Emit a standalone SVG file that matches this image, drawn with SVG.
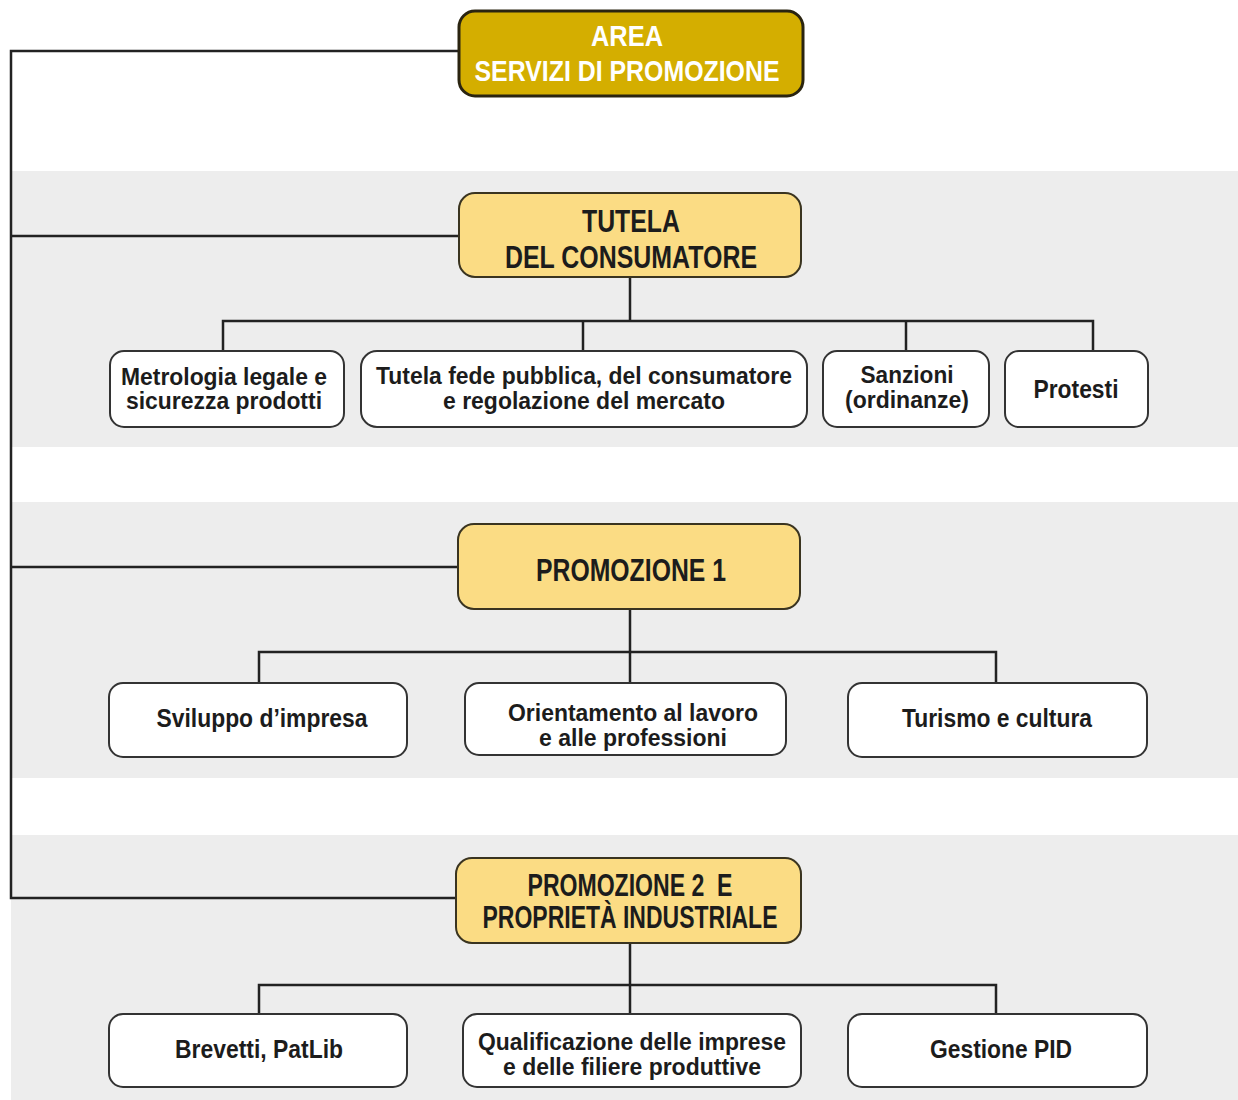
<svg xmlns="http://www.w3.org/2000/svg" width="1238" height="1100" viewBox="0 0 1238 1100">
<style>
.band{fill:#ededed}
.main{fill:#d4ae00;stroke:#2a2410;stroke-width:3}
.head{fill:#fbdc84;stroke:#3a3420;stroke-width:2}
.child{fill:#ffffff;stroke:#333333;stroke-width:2}
.ln{fill:none;stroke:#222222;stroke-width:2.5}
text{font-family:"Liberation Sans Narrow","Liberation Sans",Arial,sans-serif;font-weight:bold;text-anchor:middle;fill:#1c1c1c}
.mt{fill:#ffffff;font-size:30px}
.ht{font-size:31px}
.ct{font-size:25px}
.c2{font-size:23px}
</style>
<rect width="1238" height="1100" fill="#ffffff"/>
<rect class="band" x="11" y="171" width="1227" height="276"/>
<rect class="band" x="11" y="502" width="1227" height="276"/>
<rect class="band" x="11" y="835" width="1227" height="265"/>

<g id="connectors">
<polyline class="ln" points="459,51 11,51 11,898 456,898"/>
<line class="ln" x1="11" y1="236" x2="459" y2="236"/>
<line class="ln" x1="11" y1="567" x2="458" y2="567"/>
<line class="ln" x1="630" y1="277" x2="630" y2="321"/>
<polyline class="ln" points="223,351 223,321 1093,321 1093,351"/>
<line class="ln" x1="583" y1="321" x2="583" y2="351"/>
<line class="ln" x1="906" y1="321" x2="906" y2="351"/>
<line class="ln" x1="630" y1="609" x2="630" y2="683"/>
<polyline class="ln" points="259,683 259,652 996,652 996,683"/>
<line class="ln" x1="630" y1="943" x2="630" y2="1014"/>
<polyline class="ln" points="259,1014 259,985 996,985 996,1014"/>
</g>

<g id="area">
<rect class="main" x="459" y="11" width="344" height="85" rx="16"/>
<text class="mt" x="627" y="46" textLength="72" lengthAdjust="spacingAndGlyphs">AREA</text>
<text class="mt" x="627" y="81" textLength="305" lengthAdjust="spacingAndGlyphs">SERVIZI DI PROMOZIONE</text>
</g>

<g id="tutela">
<rect class="head" x="459" y="193" width="342" height="84" rx="16"/>
<text class="ht" x="631" y="232" textLength="98" lengthAdjust="spacingAndGlyphs">TUTELA</text>
<text class="ht" x="631" y="268" textLength="252" lengthAdjust="spacingAndGlyphs">DEL CONSUMATORE</text>
</g>

<g id="metrologia">
<rect class="child" x="110" y="351" width="234" height="76" rx="14"/>
<text class="c2" x="224" y="385" textLength="206" lengthAdjust="spacingAndGlyphs">Metrologia legale e</text>
<text class="c2" x="224" y="409" textLength="196" lengthAdjust="spacingAndGlyphs">sicurezza prodotti</text>
</g>

<g id="tutelafede">
<rect class="child" x="361" y="351" width="446" height="76" rx="16"/>
<text class="c2" x="584" y="384" textLength="416" lengthAdjust="spacingAndGlyphs">Tutela fede pubblica, del consumatore</text>
<text class="c2" x="584" y="409" textLength="282" lengthAdjust="spacingAndGlyphs">e regolazione del mercato</text>
</g>

<g id="sanzioni">
<rect class="child" x="823" y="351" width="166" height="76" rx="14"/>
<text class="c2" x="907" y="383" textLength="93" lengthAdjust="spacingAndGlyphs">Sanzioni</text>
<text class="c2" x="907" y="408" textLength="124" lengthAdjust="spacingAndGlyphs">(ordinanze)</text>
</g>

<g id="protesti">
<rect class="child" x="1005" y="351" width="143" height="76" rx="14"/>
<text class="ct" x="1076" y="398" textLength="85" lengthAdjust="spacingAndGlyphs">Protesti</text>
</g>

<g id="promozione1">
<rect class="head" x="458" y="524" width="342" height="85" rx="16"/>
<text class="ht" x="631" y="581" textLength="190" lengthAdjust="spacingAndGlyphs">PROMOZIONE 1</text>
</g>

<g id="sviluppo">
<rect class="child" x="109" y="683" width="298" height="74" rx="14"/>
<text class="ct" x="262" y="727" textLength="211" lengthAdjust="spacingAndGlyphs">Sviluppo d’impresa</text>
</g>

<g id="orientamento">
<rect class="child" x="465" y="683" width="321" height="72" rx="14"/>
<text class="c2" x="633" y="721" textLength="250" lengthAdjust="spacingAndGlyphs">Orientamento al lavoro</text>
<text class="c2" x="633" y="746" textLength="188" lengthAdjust="spacingAndGlyphs">e alle professioni</text>
</g>

<g id="turismo">
<rect class="child" x="848" y="683" width="299" height="74" rx="14"/>
<text class="ct" x="997" y="727" textLength="190" lengthAdjust="spacingAndGlyphs">Turismo e cultura</text>
</g>

<g id="promozione2">
<rect class="head" x="456" y="858" width="345" height="85" rx="16"/>
<text class="ht" x="630" y="896" textLength="205" lengthAdjust="spacingAndGlyphs" xml:space="preserve">PROMOZIONE 2  E</text>
<text class="ht" x="630" y="928" textLength="295" lengthAdjust="spacingAndGlyphs">PROPRIETÀ INDUSTRIALE</text>
</g>

<g id="brevetti">
<rect class="child" x="109" y="1014" width="298" height="73" rx="14"/>
<text class="ct" x="259" y="1058" textLength="168" lengthAdjust="spacingAndGlyphs">Brevetti, PatLib</text>
</g>

<g id="qualificazione">
<rect class="child" x="463" y="1014" width="338" height="73" rx="14"/>
<text class="c2" x="632" y="1050" textLength="308" lengthAdjust="spacingAndGlyphs">Qualificazione delle imprese</text>
<text class="c2" x="632" y="1075" textLength="258" lengthAdjust="spacingAndGlyphs">e delle filiere produttive</text>
</g>

<g id="gestione">
<rect class="child" x="848" y="1014" width="299" height="73" rx="14"/>
<text class="ct" x="1001" y="1058" textLength="142" lengthAdjust="spacingAndGlyphs">Gestione PID</text>
</g>
</svg>
